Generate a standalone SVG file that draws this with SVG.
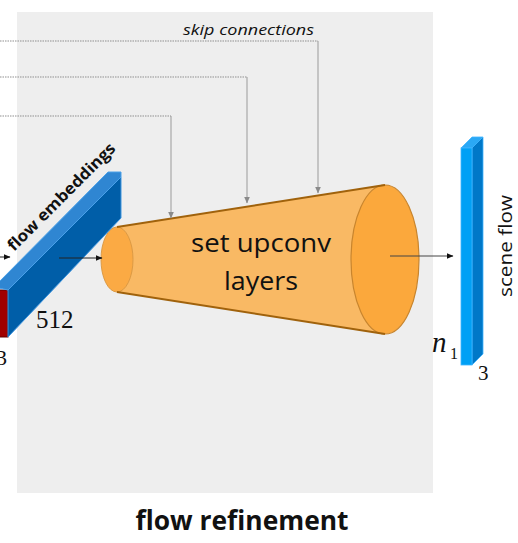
<svg xmlns="http://www.w3.org/2000/svg" width="518" height="543" viewBox="0 0 518 543">
<style>
.skipH{stroke:#8f8f8f;stroke-width:1;stroke-dasharray:1.5,1;fill:none}
.skipV{stroke:#9a9a9a;stroke-width:1;fill:none}
.arr{stroke:#222;stroke-width:1;fill:none}
.sans{font-family:"Open Sans","Liberation Sans",sans-serif}
.serif{font-family:"Liberation Serif","DejaVu Serif",serif}
</style>
<defs>
<marker id="ah" markerWidth="7" markerHeight="6" refX="6.5" refY="3" orient="auto" markerUnits="userSpaceOnUse">
<path d="M0,0 L7,3 L0,6 Z" fill="#111"/>
</marker>
<marker id="ahg" markerWidth="7" markerHeight="6" refX="6.5" refY="3" orient="auto" markerUnits="userSpaceOnUse">
<path d="M0,0 L7,3 L0,6 Z" fill="#8a8a8a"/>
</marker>
</defs>
<rect x="0" y="0" width="518" height="543" fill="#ffffff"/>
<g id="panel">
<rect x="17" y="12" width="416" height="481" fill="#eeeeee"/>
<text class="sans" x="183" y="35" font-size="15" font-style="italic" textLength="131" lengthAdjust="spacingAndGlyphs" fill="#111">skip connections</text>
</g>
<g id="cone">
<polygon points="117,227 385,185 385,334 117,292" fill="#f9b964"/>
<ellipse cx="117" cy="259.5" rx="16" ry="32.5" fill="#fbaa44" stroke="#dc9a44" stroke-width="1"/>
<ellipse cx="385" cy="259.5" rx="34" ry="74.5" fill="#fba83c" stroke="#c8852e" stroke-width="1.2"/>
<line x1="117" y1="227" x2="385" y2="185" stroke="#a0620c" stroke-width="2"/>
<line x1="117" y1="292" x2="385" y2="334" stroke="#a0620c" stroke-width="2"/>
<text class="sans" x="261" y="252" font-size="26" text-anchor="middle" textLength="140" lengthAdjust="spacingAndGlyphs" fill="#111">set upconv</text>
<text class="sans" x="261" y="290" font-size="26" text-anchor="middle" textLength="74" lengthAdjust="spacingAndGlyphs" fill="#111">layers</text>
</g>
<g id="embeddings">
<rect x="-2" y="290" width="10" height="47" fill="#a00000" stroke="#600000" stroke-width="1"/>
<polygon points="8,290 121,177 121,218 8,337" fill="#005ea8" stroke="#3f95df" stroke-width="1"/>
<polygon points="-6,287 108,172 121,172 121,177 8,290" fill="#2f86d2" stroke="#4aa0e8" stroke-width="1"/>
<text class="sans" transform="translate(14,252) rotate(-45)" font-size="16" font-weight="bold" textLength="145" lengthAdjust="spacingAndGlyphs" fill="#111">flow embeddings</text>
<text class="serif" x="36" y="328" font-size="25" fill="#111">512</text>
<text class="serif" x="-4" y="365" font-size="22" fill="#111">3</text>
</g>
<g id="sceneflow">
<polygon points="461,148 472,137 483,137 472,148" fill="#2aa8f5" stroke="#40b4ff" stroke-width="0.8"/>
<polygon points="472,148 483,137 483,354 472,365" fill="#0078c8" stroke="#40b4ff" stroke-width="0.8"/>
<rect x="461" y="148" width="11" height="217" fill="#00a0f5" stroke="#40b4ff" stroke-width="0.8"/>
<text class="sans" transform="translate(512,246) rotate(-90)" font-size="18" text-anchor="middle" textLength="102" lengthAdjust="spacingAndGlyphs" fill="#111">scene flow</text>
<text class="serif" x="432" y="352" font-size="29" font-style="italic" fill="#111">n</text>
<text class="serif" x="450" y="359" font-size="16" fill="#111">1</text>
<text class="serif" x="478" y="380" font-size="21" fill="#111">3</text>
</g>
<g id="connectors">
<path class="skipH" d="M0,41 H318"/>
<path class="skipV" d="M318,41 V193" marker-end="url(#ahg)"/>
<path class="skipH" d="M0,77 H247"/>
<path class="skipV" d="M247,77 V203" marker-end="url(#ahg)"/>
<path class="skipH" d="M0,116 H171"/>
<path class="skipV" d="M171,116 V218" marker-end="url(#ahg)"/>
<line class="arr" x1="0" y1="257" x2="10" y2="257" marker-end="url(#ah)"/>
<line class="arr" x1="59" y1="258" x2="102" y2="258" marker-end="url(#ah)"/>
<line x1="390" y1="256" x2="453" y2="256" stroke="#444" stroke-width="1" marker-end="url(#ah)"/>
</g>
<g id="title">
<text class="sans" x="242" y="530" font-size="26" font-weight="bold" text-anchor="middle" textLength="213" lengthAdjust="spacingAndGlyphs" fill="#111">flow refinement</text>
</g>
</svg>
